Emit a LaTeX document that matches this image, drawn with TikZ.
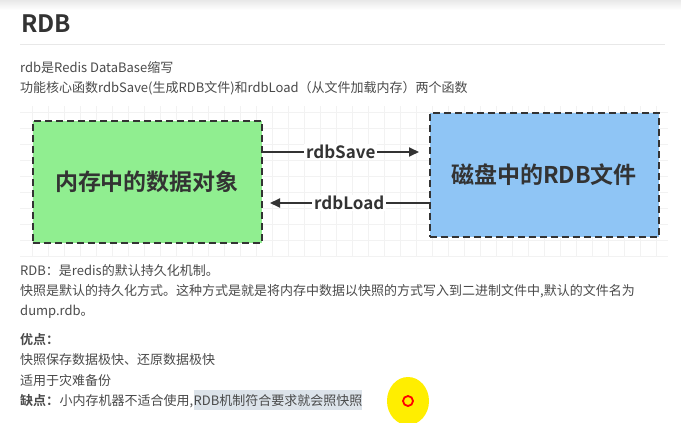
\documentclass[tikz,border=0pt]{standalone}
\usepackage{fontspec}
\setmainfont{Noto Sans CJK SC}[BoldFont={Noto Sans CJK SC Bold}]
\usetikzlibrary{arrows.meta, positioning, shapes.geometric}

\definecolor{txtgray}{HTML}{4A4A4A}
\definecolor{titlegray}{HTML}{333333}
\definecolor{memgreen}{HTML}{90EE90}
\definecolor{diskblue}{HTML}{8FC5F5}
\definecolor{markblue}{HTML}{DCE3EA}
\definecolor{gridgray}{HTML}{F2F2F2}
\definecolor{rulegray}{HTML}{E8E8E8}
\definecolor{cursoryellow}{HTML}{FFEE00}

\begin{document}
\begin{tikzpicture}[
    x=1pt,
    y=-1pt,
    line/.style={
        font=\fontsize{13}{15}\selectfont,
        text=txtgray,
        anchor=base west,
        inner sep=0pt
    },
    box/.style={
        rectangle,
        draw=titlegray,
        dash pattern=on 7pt off 4pt,
        line width=2pt,
        minimum width=229pt,
        minimum height=122pt,
        font=\fontsize{23}{26}\selectfont\bfseries,
        text=titlegray
    },
    arrow/.style={
        -{Triangle[length=10pt,width=9pt]},
        line width=2pt,
        draw=titlegray
    },
    flowlabel/.style={
        font=\fontsize{17}{19}\selectfont\bfseries,
        text=titlegray,
        fill=white,
        inner xsep=2pt,
        inner ysep=1pt
    }
]
\useasboundingbox (0,0) rectangle (681,423);
\fill[white] (0,0) rectangle (681,423);
\shade[top color=gray!18, bottom color=white] (0,0) rectangle (681,10);

% Heading
\node[anchor=base west, inner sep=0pt, font=\fontsize{24}{28}\selectfont\bfseries, text=titlegray] (title) at (21,32) {RDB};
\draw[rulegray, line width=1pt] (20,44) -- (665,44);

\node[line] (intro) at (20,72) {rdb是Redis DataBase缩写};
\node[line] (funcs) at (20,92) {功能核心函数rdbSave(生成RDB文件)和rdbLoad（从文件加载内存）两个函数};

% Diagram
\draw[gridgray, step=16pt] (20,106) grid (668,256);
\node[box, fill=memgreen] (mem) at (147,182) {内存中的数据对象};
\node[box, fill=diskblue, minimum height=124pt] (disk) at (544,175) {磁盘中的RDB文件};

\coordinate (saveend) at (419,152);
\coordinate (loadend) at (270,203);
\draw[arrow] (mem.east |- saveend) -- node[flowlabel] {rdbSave} (saveend);
\draw[arrow] (disk.west |- loadend) -- node[flowlabel] {rdbLoad} (loadend);

% Notes
\node[line] (rdbdef) at (20,275) {RDB：是redis的默认持久化机制。};
\node[line] (snapdef) at (20,295) {快照是默认的持久化方式。这种方式是就是将内存中数据以快照的方式写入到二进制文件中,默认的文件名为};
\node[line] (dumpfile) at (20,315) {dump.rdb。};
\node[line, font=\fontsize{13}{15}\selectfont\bfseries] (pros) at (20,344) {优点：};
\node[line] (pro1) at (20,364) {快照保存数据极快、还原数据极快};
\node[line] (pro2) at (20,385) {适用于灾难备份};
\node[line, font=\fontsize{13}{15}\selectfont\bfseries] (cons) at (20,405) {缺点：};
\node[line, base right=0pt of cons] (con1) {小内存机器不适合使用,};
\node[line, base right=0pt of con1, fill=markblue, inner ysep=4pt] (con2) {RDB机制符合要求就会照快照};

% Cursor
\node[ellipse, fill=cursoryellow, minimum width=42pt, minimum height=48pt] (cursor) at (408,401) {};
\node[circle, draw=red, line width=1.8pt, minimum size=10pt, inner sep=0pt] (clickmark) at (cursor.center) {};

\end{tikzpicture}
\end{document}
